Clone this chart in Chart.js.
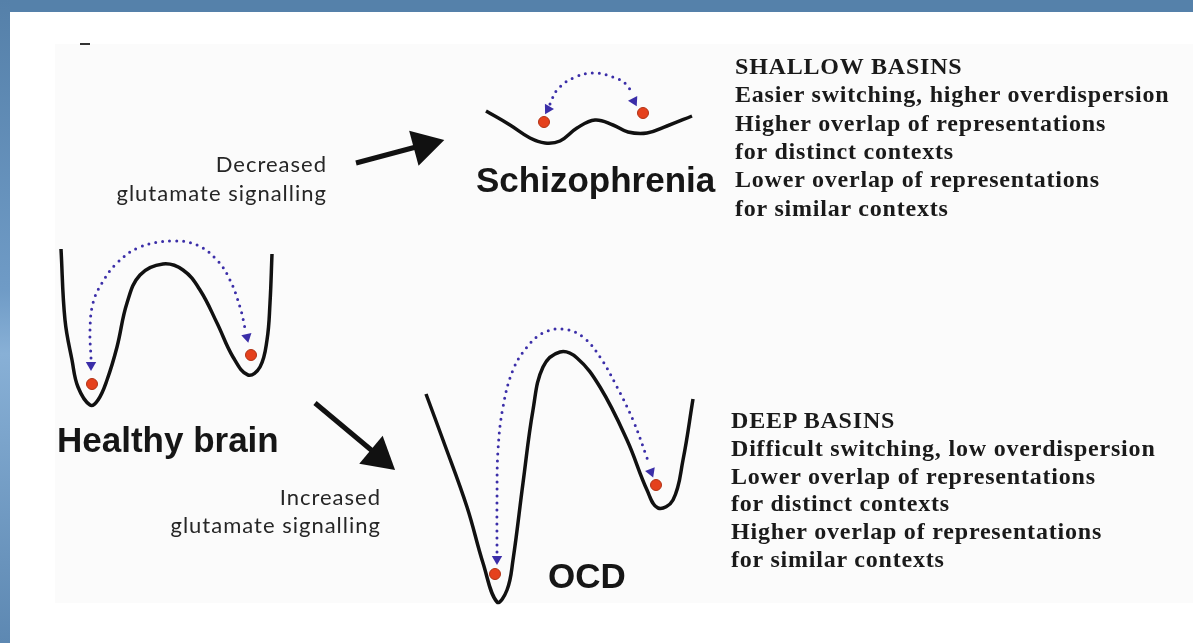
<!DOCTYPE html>
<html>
<head>
<meta charset="utf-8">
<script src="https://cdn.jsdelivr.net/npm/chart.js@4/dist/chart.umd.min.js"></script>
<style>
html, body { margin: 0; padding: 0; width: 1193px; height: 643px; overflow: hidden; background: #fff; }
#frameTop { position: absolute; left: 0; top: 0; width: 1193px; height: 12px; background: #5581aa; }
#frameLeft { position: absolute; left: 0; top: 0; width: 10px; height: 643px; background: linear-gradient(#5580a9, #6f9bc6 45%, #88b0d6 55%, #5d88b2); }
#panel { position: absolute; left: 55px; top: 44px; width: 1138px; height: 559px; background: #fbfbfb; }
#dash { position: absolute; left: 80px; top: 43px; width: 10px; height: 2px; background: #333; }
#wrap { position: absolute; left: 0; top: 0; width: 1193px; height: 643px; }
.lbl { position: absolute; white-space: nowrap; color: #1b1b1b; }
.gothic { font-family: "Lato", "Open Sans", sans-serif; font-size: 22px; letter-spacing: 1px; color: #262626; }
.big { font-family: "Liberation Sans", Arial, sans-serif; font-weight: bold; font-size: 35px; color: #161616; }
.serif { font-family: "Liberation Serif", serif; font-weight: bold; font-size: 24px; letter-spacing: 0.8px; color: #1a1a1a; }
</style>
</head>
<body>
<div id="frameTop"></div>
<div id="frameLeft"></div>
<div id="panel"></div>
<div id="dash"></div>
<div id="wrap"><canvas id="grafico" width="1193" height="643"></canvas></div>

<script>
// curvas de energia (coordenadas en px)
const curvaSana = [
  {x: 61, y: 249}, {x: 65, y: 320}, {x: 72, y: 360}, {x: 78, y: 387}, {x: 90, y: 405},
  {x: 98, y: 400}, {x: 107, y: 380}, {x: 117, y: 347}, {x: 127, y: 303}, {x: 140, y: 275},
  {x: 163, y: 264}, {x: 183, y: 270}, {x: 200, y: 290}, {x: 217, y: 323}, {x: 233, y: 357},
  {x: 248, y: 375}, {x: 260, y: 367}, {x: 267, y: 340}, {x: 270, y: 303}, {x: 272, y: 254}
];
const curvaToc = [
  {x: 426, y: 394}, {x: 443, y: 440}, {x: 467, y: 507}, {x: 483, y: 563}, {x: 497, y: 602},
  {x: 507, y: 590}, {x: 513, y: 560}, {x: 523, y: 483}, {x: 533, y: 410}, {x: 543, y: 367},
  {x: 560, y: 352}, {x: 577, y: 358}, {x: 600, y: 387}, {x: 627, y: 440}, {x: 647, y: 490},
  {x: 658, y: 508}, {x: 673, y: 500}, {x: 683, y: 460}, {x: 693, y: 399}
];
const curvaEsquizo = [
  {x: 486, y: 111}, {x: 510, y: 125}, {x: 530, y: 138}, {x: 545, y: 143}, {x: 560, y: 141},
  {x: 577, y: 128}, {x: 595, y: 120}, {x: 613, y: 125}, {x: 628, y: 132}, {x: 647, y: 133},
  {x: 667, y: 126}, {x: 692, y: 116}
];

// saltos punteados entre cuencas
const saltoSana = [
  {x: 91, y: 358}, {x: 90, y: 330}, {x: 93, y: 303}, {x: 102, y: 283}, {x: 117, y: 263},
  {x: 140, y: 247}, {x: 172, y: 241}, {x: 197, y: 245}, {x: 217, y: 260}, {x: 230, y: 280},
  {x: 240, y: 307}, {x: 245, y: 328}
];
const saltoToc = [
  {x: 497, y: 552}, {x: 497, y: 500}, {x: 498, y: 450}, {x: 503, y: 407}, {x: 513, y: 370},
  {x: 527, y: 347}, {x: 543, y: 333}, {x: 563, y: 329}, {x: 583, y: 337}, {x: 600, y: 357},
  {x: 617, y: 387}, {x: 633, y: 420}, {x: 646, y: 455}, {x: 649, y: 464}
];
const saltoEsquizo = [
  {x: 550, y: 104}, {x: 557, y: 90}, {x: 573, y: 78}, {x: 593, y: 73}, {x: 613, y: 77},
  {x: 627, y: 85}, {x: 632, y: 95}
];

// puntas de flecha de los saltos y su giro
const puntasSalto = [
  {x: 91, y: 365}, {x: 247, y: 337}, {x: 497, y: 559}, {x: 651, y: 472}, {x: 548, y: 109}, {x: 634, y: 101}
];
const giroPuntasSalto = [180, 168, 180, 159, 209, 153];

// bolitas rojas (estado actual)
const estados = [
  {x: 92, y: 384}, {x: 251, y: 355}, {x: 495, y: 574}, {x: 656, y: 485}, {x: 544, y: 122}, {x: 643, y: 113}
];

// flechas negras grandes
const flechaArriba = [{x: 356, y: 163}, {x: 416, y: 147}];
const flechaAbajo = [{x: 315, y: 403}, {x: 376, y: 454}];
const puntasFlecha = [{x: 424, y: 145.5}, {x: 379, y: 456.5}];
const giroPuntasFlecha = [75, 130];

// textos
const textoDecreased = ["Decreased", "glutamate signalling"];
const textoIncreased = ["Increased", "glutamate signalling"];
const textoShallow = ["SHALLOW BASINS", "Easier switching, higher overdispersion", "Higher overlap of representations",
  "for distinct contexts", "Lower overlap of representations", "for similar contexts"];
const textoDeep = ["DEEP BASINS", "Difficult switching, low overdispersion", "Lower overlap of representations",
  "for distinct contexts", "Higher overlap of representations", "for similar contexts"];

const curva = (data) => ({ data, showLine: true, borderColor: '#111', borderWidth: 3.5, borderJoinStyle: 'round', pointRadius: 0, tension: 0.4, order: 3 });
const salto = (data) => ({ data, showLine: true, borderColor: '#3b2ea8', borderWidth: 3, borderDash: [0, 7], borderCapStyle: 'round', pointRadius: 0, tension: 0.4, order: 2 });

const grafico = new Chart(document.querySelector('#grafico'), {
  type: 'scatter',
  data: {
    datasets: [
      curva(curvaSana), curva(curvaToc), curva(curvaEsquizo),
      salto(saltoSana), salto(saltoToc), salto(saltoEsquizo),
      { data: puntasSalto, pointStyle: 'triangle', pointRadius: 6, pointRotation: giroPuntasSalto, backgroundColor: '#3b2ea8', borderColor: '#3b2ea8', borderWidth: 0, order: 1 },
      { data: estados, pointRadius: 5.5, backgroundColor: '#e5411d', borderColor: '#b03214', borderWidth: 1, order: 0 },
      { data: flechaArriba, showLine: true, borderColor: '#111', borderWidth: 5, pointRadius: 0, order: 1 },
      { data: flechaAbajo, showLine: true, borderColor: '#111', borderWidth: 5, pointRadius: 0, order: 1 },
      { data: puntasFlecha, pointStyle: 'triangle', pointRadius: 21, pointRotation: giroPuntasFlecha, backgroundColor: '#111', borderColor: '#111', borderWidth: 0, order: 0 }
    ]
  },
  options: {
    responsive: false,
    animation: false,
    layout: { padding: 0, autoPadding: false },
    plugins: { legend: { display: false }, tooltip: { enabled: false } },
    scales: {
      x: { type: 'linear', min: 0, max: 1193, display: false },
      y: { type: 'linear', min: 0, max: 643, reverse: true, display: false }
    }
  }
});

// colocar texto por linea base
const wrap = document.querySelector('#wrap');
const poner = (texto, clase, x, base, derecha) => {
  const d = document.createElement('div');
  d.className = 'lbl ' + clase;
  d.textContent = texto;
  const marca = document.createElement('span');
  marca.style.cssText = 'display:inline-block;width:0;height:0;vertical-align:baseline';
  d.appendChild(marca);
  d.style.top = '0px';
  if (derecha) { d.style.right = (1193 - x) + 'px'; d.style.textAlign = 'right'; }
  else d.style.left = x + 'px';
  wrap.appendChild(d);
  d.style.top = (base - marca.offsetTop) + 'px';
};

textoDecreased.forEach((t, i) => poner(t, 'gothic', 327, 172 + i * 29, true));
textoIncreased.forEach((t, i) => poner(t, 'gothic', 381, 505 + i * 28, true));
poner('Schizophrenia', 'big', 476, 192);
poner('Healthy brain', 'big', 57, 452);
poner('OCD', 'big', 548, 588);
textoShallow.forEach((t, i) => poner(t, 'serif', 735, 74 + i * 28.3));
textoDeep.forEach((t, i) => poner(t, 'serif', 731, 428 + i * 27.8));
</script>
</body>
</html>
